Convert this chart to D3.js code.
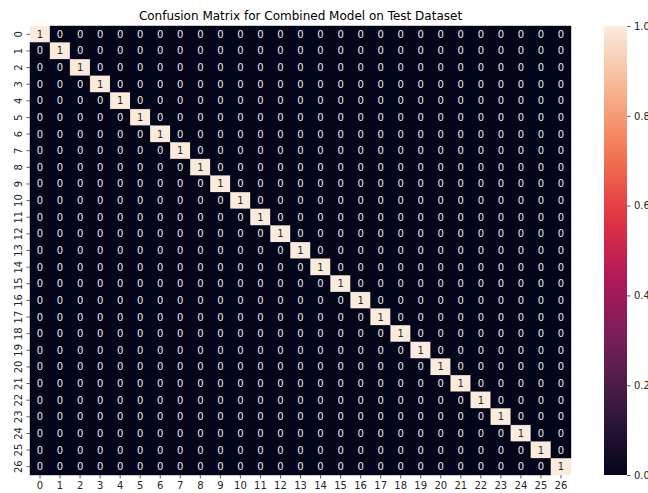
<!DOCTYPE html>
<html>
<head>
<meta charset="utf-8">
<script src="https://cdn.jsdelivr.net/npm/d3@7"></script>
<style>
  body { margin: 0; background: #fff; }
  text { font-family: "DejaVu Sans", sans-serif; }
</style>
</head>
<body>
<div id="chart"></div>
<script>
// labels 0..26 on both axes
var classes = ["0","1","2","3","4","5","6","7","8","9","10","11","12","13","14","15","16","17","18","19","20","21","22","23","24","25","26"];
// predicted class index for each true class (all on the diagonal)
var predicted = [0,1,2,3,4,5,6,7,8,9,10,11,12,13,14,15,16,17,18,19,20,21,22,23,24,25,26];
var counts = [1,1,1,1,1,1,1,1,1,1,1,1,1,1,1,1,1,1,1,1,1,1,1,1,1,1,1];
var cbarTicks = [0, 0.2, 0.4, 0.6, 0.8, 1.0];
var title = "Confusion Matrix for Combined Model on Test Dataset";

var W = 648, H = 493;
// note: "top" is a reserved window prop, so use plot* names
var plotL = 30, plotT = 26, plotR = 571, plotB = 475;

// build cells
var cells = [];
classes.forEach(function(r, i) {
  classes.forEach(function(c, j) {
    cells.push({row: r, col: c, v: predicted[i] === j ? counts[i] : 0});
  });
});

var svg = d3.select("#chart").append("svg")
  .attr("width", W).attr("height", H);

var x = d3.scaleBand().domain(classes).range([plotL, plotR]);
var y = d3.scaleBand().domain(classes).range([plotT, plotB]);

// rocket colormap approx
var rocket = d3.scaleLinear()
  .domain([0, 1/7, 2/7, 3/7, 4/7, 5/7, 6/7, 1])
  .range(["#03051a", "#35193e", "#701f57", "#ad1759", "#e13342", "#f37651", "#f6b48f", "#faebdd"])
  .interpolate(d3.interpolateRgb);
var color = d3.scaleLinear().domain([0, 1]).range([0, 1]);

// dark backing so no seams show between cells
svg.append("rect")
  .attr("x", plotL).attr("y", plotT)
  .attr("width", plotR - plotL).attr("height", plotB - plotT)
  .attr("fill", rocket(0));

svg.selectAll("rect.cell")
  .data(cells)
  .enter().append("rect")
  .attr("class", "cell")
  .attr("x", function(d) { return x(d.col); })
  .attr("y", function(d) { return y(d.row); })
  .attr("width", x.bandwidth())
  .attr("height", y.bandwidth())
  .attr("fill", function(d) { return rocket(color(d.v)); })
  .attr("stroke", function(d) { return rocket(color(d.v)); })
  .attr("stroke-width", 0.4);

svg.selectAll("text.ann")
  .data(cells)
  .enter().append("text")
  .attr("class", "ann")
  .attr("x", function(d) { return x(d.col) + x.bandwidth() / 2; })
  .attr("y", function(d) { return y(d.row) + y.bandwidth() / 2; })
  .attr("dy", "0.35em")
  .attr("text-anchor", "middle")
  .attr("font-size", 10)
  .attr("fill", function(d) { return d.v > 0.5 ? "#262626" : "#ebebeb"; })
  .text(function(d) { return d.v; });

// axes
var xAxis = svg.append("g")
  .attr("transform", "translate(0," + plotB + ")")
  .call(d3.axisBottom(x).tickSize(3.5).tickPadding(3.5));
var yAxis = svg.append("g")
  .attr("transform", "translate(" + plotL + ",0)")
  .call(d3.axisLeft(y).tickSize(3.5).tickPadding(3.5));

[xAxis, yAxis].forEach(function(g) {
  g.select(".domain").remove();
  g.selectAll(".tick line").attr("stroke", "#333").attr("stroke-width", 0.8);
  g.selectAll(".tick text").attr("font-size", 10).attr("fill", "#262626")
    .attr("font-family", "DejaVu Sans, sans-serif");
});
yAxis.selectAll(".tick text")
  .attr("text-anchor", "middle")
  .attr("x", 0).attr("dy", 0)
  .attr("transform", "translate(-12,0) rotate(-90)")
  .attr("dominant-baseline", "central");

// title
svg.append("text")
  .attr("x", (plotL + plotR) / 2)
  .attr("y", 20)
  .attr("text-anchor", "middle")
  .attr("font-size", 12)
  .attr("fill", "#000")
  .text(title);

// colorbar
var cbL = 604, cbR = 627;
var cs = d3.scaleLinear().domain([0, 1]).range([plotB, plotT]);
var defs = svg.append("defs");
var grad = defs.append("linearGradient").attr("id", "rocketGrad")
  .attr("x1", "0").attr("y1", "1").attr("x2", "0").attr("y2", "0");
d3.range(0, 1.0001, 0.05).forEach(function(t) {
  grad.append("stop").attr("offset", t).attr("stop-color", rocket(t));
});
svg.append("rect")
  .attr("x", cbL).attr("y", plotT)
  .attr("width", cbR - cbL).attr("height", plotB - plotT)
  .attr("fill", "url(#rocketGrad)");

var cAxis = svg.append("g")
  .attr("transform", "translate(" + cbR + ",0)")
  .call(d3.axisRight(cs).tickValues(cbarTicks).tickFormat(d3.format(".1f")).tickSize(3.5).tickPadding(3.5));
cAxis.select(".domain").remove();
cAxis.selectAll(".tick line").attr("stroke", "#333").attr("stroke-width", 0.8);
cAxis.selectAll(".tick text").attr("font-size", 10).attr("fill", "#262626")
  .attr("font-family", "DejaVu Sans, sans-serif");
</script>
</body>
</html>
